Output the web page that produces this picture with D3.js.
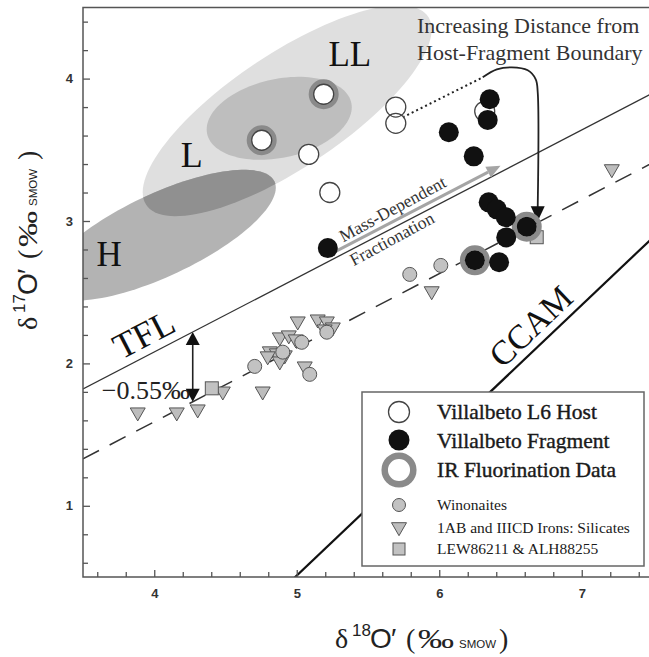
<!DOCTYPE html>
<html><head><meta charset="utf-8">
<script src="https://cdn.jsdelivr.net/npm/d3@7"></script>
<style>body{margin:0;background:#fff}svg{display:block}</style>
</head><body><svg id="c" width="649" height="657"></svg>
<script>
// ---------- data ----------
const xTickValues = [4, 5, 6, 7];
const yTickValues = [1, 2, 3, 4];
// Villalbeto L6 Host
const hostX = [4.754, 5.189, 5.084, 5.232, 5.695, 5.695, 6.319];
const hostY = [3.567, 3.890, 3.468, 3.200, 3.800, 3.686, 3.770];
// Villalbeto Fragment
const fragX = [6.354, 6.340, 6.067, 6.242, 6.347, 6.404, 6.467, 6.614, 6.470, 6.250, 6.420, 5.218];
const fragY = [3.855, 3.710, 3.623, 3.454, 3.131, 3.082, 3.026, 2.960, 2.885, 2.724, 2.710, 2.810];
// IR fluorination data (ringed)
const irX = [4.754, 5.189, 6.614, 6.250];
const irY = [3.567, 3.890, 2.960, 2.724];
// Winonaites
const winX = [4.705, 5.035, 5.091, 5.211, 4.902, 5.793, 6.011];
const winY = [1.979, 2.148, 1.923, 2.219, 2.079, 2.625, 2.688];
// IAB and IIICD irons: silicates
const iabX = [3.884, 4.158, 4.305, 4.481, 4.761, 5.007, 5.147, 5.211, 5.253, 5.196, 4.881, 4.944, 4.993, 4.811, 4.860, 4.916, 4.881, 4.796, 5.056, 5.947, 7.211];
const iabY = [1.657, 1.657, 1.678, 1.804, 1.804, 2.296, 2.310, 2.296, 2.254, 2.240, 2.184, 2.198, 2.170, 2.086, 2.072, 2.058, 2.015, 2.051, 1.980, 2.508, 3.365];
// LEW86211 & ALH88255
const lewX = [4.404, 6.684];
const lewY = [1.825, 2.886];
// reference lines: slope, intercept
const tflLine = [0.52, 0.0];
const offLine = [0.52, -0.49];
const ccamLine = [0.95, -4.24];
// ordinary chondrite fields (centre, half-width in x, axis slope, half-height)
const ellCX = [4.933, 4.877, 4.039];
const ellCY = [3.774, 3.721, 2.900];
const ellWX = [1.014, 0.509, 0.814];
const ellM  = [0.564, 0.152, 0.410];
const ellHY = [0.470, 0.281, 0.316];
// host -> fragment path
const dotX = [5.744, 6.305];
const dotY = [3.728, 4.009];
const curveX = [6.305, 6.404, 6.509, 6.621, 6.677, 6.691, 6.691];
const curveY = [4.009, 4.065, 4.079, 4.058, 3.995, 3.904, 3.096];
// mass-dependent fractionation arrow (x range, offset above TFL)
const mdfX = [5.27, 6.43];
const mdfOffset = 0.045;

// ---------- layout ----------
const L = 83, T = 7.4, R = 649, B = 577;
const x = d3.scaleLinear().domain([3.5, 7.55]).range([L, L + 4.05 * 142.5]);
const y = d3.scaleLinear().domain([0.5, 4.5]).range([B, B - 4 * 142.4]);
const svg = d3.select("#c");
const SERIF = "'Liberation Serif','Times New Roman',serif";
const SANS = "'Liberation Sans',Arial,sans-serif";

const defs = svg.append("defs");
defs.append("clipPath").attr("id", "plot").append("rect")
  .attr("x", L).attr("y", T).attr("width", R - L).attr("height", B - T);

function ellPath(i) {
  const pts = d3.range(0, 361, 3).map(a => {
    const t = a * Math.PI / 180;
    const X = ellCX[i] + ellWX[i] * Math.cos(t);
    const Y = ellCY[i] + ellM[i] * ellWX[i] * Math.cos(t) + ellHY[i] * Math.sin(t);
    return [x(X), y(Y)];
  });
  return d3.line()(pts) + "Z";
}
defs.append("clipPath").attr("id", "bigEll").append("path").attr("d", ellPath(0));

const g = svg.append("g").attr("clip-path", "url(#plot)");
const ellFill = ["#dfdfdf", "#bebebe", "#b3b3b3"];
[0, 1, 2].forEach(i => g.append("path").attr("d", ellPath(i)).attr("fill", ellFill[i]));
g.append("g").attr("clip-path", "url(#bigEll)").append("path").attr("d", ellPath(2)).attr("fill", "#909090");

// lines
function refLine(p, dash, w, col) {
  const xs = [3.5, 7.55];
  g.append("line").attr("x1", x(xs[0])).attr("y1", y(p[0] * xs[0] + p[1]))
    .attr("x2", x(xs[1])).attr("y2", y(p[0] * xs[1] + p[1]))
    .attr("stroke", col).attr("stroke-width", w).attr("stroke-dasharray", dash);
}
refLine(tflLine, null, 1.3, "#333");
refLine(offLine, "18,12", 1.5, "#333");
refLine(ccamLine, null, 2.2, "#111");

// mass-dependent fractionation arrow
(function () {
  const f = v => tflLine[0] * v + tflLine[1] + mdfOffset;
  const x1 = x(mdfX[0]), y1 = y(f(mdfX[0])), x2 = x(mdfX[1]), y2 = y(f(mdfX[1]));
  const ang = Math.atan2(y2 - y1, x2 - x1);
  const hl = 14, hw = 6;
  const bx = x2 - hl * Math.cos(ang), by = y2 - hl * Math.sin(ang);
  g.append("line").attr("x1", x1).attr("y1", y1).attr("x2", bx).attr("y2", by)
    .attr("stroke", "#a5a5a5").attr("stroke-width", 3);
  g.append("path").attr("d", `M${x2},${y2}L${bx - hw * Math.sin(ang)},${by + hw * Math.cos(ang)}L${bx + hw * Math.sin(ang)},${by - hw * Math.cos(ang)}Z`)
    .attr("fill", "#a5a5a5");
})();
const tflAngle = Math.atan2(y(4.52) - y(4), x(4 + 1) - x(4)) * 180 / Math.PI;
[["Mass-Dependent", 5.672, 3.085], ["Fractionation", 5.667, 2.875]].forEach(d => {
  g.append("text").attr("transform", `translate(${x(d[1])},${y(d[2])}) rotate(${tflAngle - 1})`)
    .attr("text-anchor", "middle").attr("dominant-baseline", "central")
    .attr("font-family", SERIF).attr("font-size", 17.5).attr("fill", "#333").text(d[0]);
});

// host -> fragment dotted + curved arrow
g.append("path").attr("d", d3.line()(dotX.map((v, i) => [x(v), y(dotY[i])])))
  .attr("stroke", "#222").attr("stroke-width", 2).attr("stroke-dasharray", "2,3").attr("fill", "none");
g.append("path").attr("d", d3.line().curve(d3.curveCatmullRom)(curveX.map((v, i) => [x(v), y(curveY[i])])))
  .attr("stroke", "#222").attr("stroke-width", 1.8).attr("fill", "none");
(function () {
  const tx = x(curveX[curveX.length - 1]), ty = y(curveY[curveY.length - 1]) + 14;
  g.append("path").attr("d", `M${tx},${ty}L${tx - 7},${ty - 15}L${tx + 7},${ty - 15}Z`).attr("fill", "#111");
})();

// -0.55 permil double arrow
(function () {
  const ax = x(4.27), yt = y(tflLine[0] * 4.27 + tflLine[1]), yb = y(offLine[0] * 4.27 + offLine[1]);
  g.append("line").attr("x1", ax).attr("x2", ax).attr("y1", yt + 10).attr("y2", yb - 10).attr("stroke", "#222").attr("stroke-width", 1.6);
  g.append("path").attr("d", `M${ax},${yt}L${ax - 7},${yt + 13}L${ax + 7},${yt + 13}Z`).attr("fill", "#111");
  g.append("path").attr("d", `M${ax},${yb}L${ax - 7},${yb - 13}L${ax + 7},${yb - 13}Z`).attr("fill", "#111");
  const t = g.append("text").attr("x", ax - 91).attr("y", y(1.75))
    .attr("font-family", SERIF).attr("font-size", 26).attr("fill", "#222");
  t.append("tspan").text("\u22120.55");
  t.append("tspan").attr("textLength", 28).attr("lengthAdjust", "spacingAndGlyphs").text("\u2030");
})();

// markers
const mk = g.append("g");
const triPath = "M-7.5,-4.3L7.5,-4.3L0,8.7Z";
iabX.forEach((v, i) => mk.append("path").attr("d", triPath)
  .attr("transform", `translate(${x(v)},${y(iabY[i])})`)
  .attr("fill", "#bdbdbd").attr("stroke", "#555").attr("stroke-width", 1));
winX.forEach((v, i) => mk.append("circle").attr("cx", x(v)).attr("cy", y(winY[i])).attr("r", 7)
  .attr("fill", "#c2c2c2").attr("stroke", "#555").attr("stroke-width", 1));
lewX.forEach((v, i) => mk.append("rect").attr("x", x(v) - 6.5).attr("y", y(lewY[i]) - 6.5)
  .attr("width", 13).attr("height", 13).attr("fill", "#c2c2c2").attr("stroke", "#555").attr("stroke-width", 1));
irX.forEach((v, i) => mk.append("circle").attr("cx", x(v)).attr("cy", y(irY[i])).attr("r", 12.5)
  .attr("fill", "none").attr("stroke", "#8a8a8a").attr("stroke-width", 5));
hostX.forEach((v, i) => mk.append("circle").attr("cx", x(v)).attr("cy", y(hostY[i])).attr("r", 10).attr("fill", "#fff"));
hostX.forEach((v, i) => mk.append("circle").attr("cx", x(v)).attr("cy", y(hostY[i])).attr("r", 10)
  .attr("fill", "none").attr("stroke", "#444").attr("stroke-width", 1.3));
fragX.forEach((v, i) => mk.append("circle").attr("cx", x(v)).attr("cy", y(fragY[i])).attr("r", 10).attr("fill", "#111"));

// field labels
[["LL", 5.372, 4.171, 35, 0], ["L", 4.263, 3.465, 36, 0], ["H", 3.684, 2.770, 35, 0],
 ["TFL", 3.926, 2.204, 36, tflAngle], ["CCAM", 6.642, 2.261, 34, -43.5]].forEach(d => {
  g.append("text").attr("transform", `translate(${x(d[1])},${y(d[2])}) rotate(${d[4]})`)
    .attr("text-anchor", "middle").attr("dy", "0.34em")
    .attr("font-family", SERIF).attr("font-size", d[3]).attr("fill", "#111").text(d[0]);
});

// title annotation
["Increasing Distance from", "Host-Fragment Boundary"].forEach((t, i) => {
  svg.append("text").attr("x", 417).attr("y", 33 + i * 27).attr("font-family", SERIF)
    .attr("font-size", 22).attr("fill", "#333").text(t);
});

// axes
const axCol = "#555";
function styleAxis(sel) {
  sel.select(".domain").remove();
  sel.selectAll("line").attr("stroke", axCol).attr("stroke-width", 1.3);
  sel.selectAll("text").attr("font-family", SANS).attr("font-size", 13).attr("font-weight", "bold").attr("fill", "#333");
}
const minorX = d3.range(3.6, 7.55, 0.2).filter(v => Math.abs(v - Math.round(v)) > 0.01);
const minorY = d3.range(0.6, 4.5, 0.2).filter(v => Math.abs(v - Math.round(v)) > 0.01);
svg.append("g").attr("transform", `translate(0,${B})`)
  .call(d3.axisBottom(x).tickValues(minorX).tickSize(-5).tickFormat("")).call(styleAxis);
svg.append("g").attr("transform", `translate(0,${B})`)
  .call(d3.axisBottom(x).tickValues(xTickValues).tickSize(-7).tickPadding(12).tickFormat(d3.format("d"))).call(styleAxis);
svg.append("g").attr("transform", `translate(${L},0)`)
  .call(d3.axisLeft(y).tickValues(minorY).tickSize(-5).tickFormat("")).call(styleAxis);
svg.append("g").attr("transform", `translate(${L},0)`)
  .call(d3.axisLeft(y).tickValues(yTickValues).tickSize(-7).tickPadding(10).tickFormat(d3.format("d"))).call(styleAxis);
svg.append("path").attr("d", `M${R},${T}H${L}V${B}H${R}`).attr("fill", "none").attr("stroke", axCol).attr("stroke-width", 1.5);

// axis titles
function axisTitle(parent, sup, gap) {
  const parts = [
    ["\u03b4", SERIF, 28, 0, 0, null],
    [sup, SANS, 17, 17, -12, null],
    ["O", SANS, 28, 35, 0, null],
    ["\u2032", SANS, 28, 56, 0, null],
    ["(", SERIF, 28, 71, 0, null],
    ["\u2030", SERIF, 27, 83, 0, 36]
  ];
  parts.forEach(p => {
    const t = parent.append("text").attr("x", p[3]).attr("y", p[4])
      .attr("font-family", p[1]).attr("font-size", p[2]).attr("fill", "#222").text(p[0]);
    if (p[5]) t.attr("textLength", p[5]).attr("lengthAdjust", "spacingAndGlyphs");
  });
  const t = parent.append("text").attr("x", 124).attr("y", 0).attr("fill", "#222");
  t.append("tspan").attr("font-family", SANS).attr("font-size", 11.5).text("SMOW");
  t.append("tspan").attr("dx", 3 + gap).attr("font-family", SERIF).attr("font-size", 28).text(")");
}
axisTitle(svg.append("g").attr("transform", "translate(335,648)"), "18", 0);
axisTitle(svg.append("g").attr("transform", "translate(37,330) rotate(-90)"), "17", 6);

// legend
const lg = svg.append("g");
lg.append("rect").attr("x", 362).attr("y", 392).attr("width", 282).attr("height", 174)
  .attr("fill", "#fff").attr("stroke", "#666").attr("stroke-width", 1.5);
const lx = 399, tx = 437;
lg.append("circle").attr("cx", lx).attr("cy", 412).attr("r", 10.5).attr("fill", "#fff").attr("stroke", "#444").attr("stroke-width", 1.3);
lg.append("circle").attr("cx", lx).attr("cy", 440).attr("r", 10.5).attr("fill", "#111");
lg.append("circle").attr("cx", lx).attr("cy", 470).attr("r", 14.3).attr("fill", "none").attr("stroke", "#8a8a8a").attr("stroke-width", 6.5);
lg.append("circle").attr("cx", lx).attr("cy", 505).attr("r", 6.5).attr("fill", "#c2c2c2").attr("stroke", "#555");
lg.append("path").attr("d", triPath).attr("transform", `translate(${lx},527)`).attr("fill", "#bdbdbd").attr("stroke", "#555");
lg.append("rect").attr("x", lx - 6).attr("y", 543).attr("width", 12).attr("height", 12).attr("fill", "#c2c2c2").attr("stroke", "#555");
[["Villalbeto L6 Host", 419, 21.5, 0.4], ["Villalbeto Fragment", 448, 21.5, 0.4], ["IR Fluorination Data", 477, 21.5, 0.4],
 ["Winonaites", 510, 15.5, 0], ["1AB and IIICD Irons: Silicates", 533, 15.5, 0], ["LEW86211 & ALH88255", 554, 15.5, 0]]
  .forEach(d => lg.append("text").attr("x", tx).attr("y", d[1]).attr("font-family", SERIF)
    .attr("font-size", d[2]).attr("fill", "#1a1a1a").attr("stroke", "#1a1a1a").attr("stroke-width", d[3]).text(d[0]));
</script>
</body></html>
